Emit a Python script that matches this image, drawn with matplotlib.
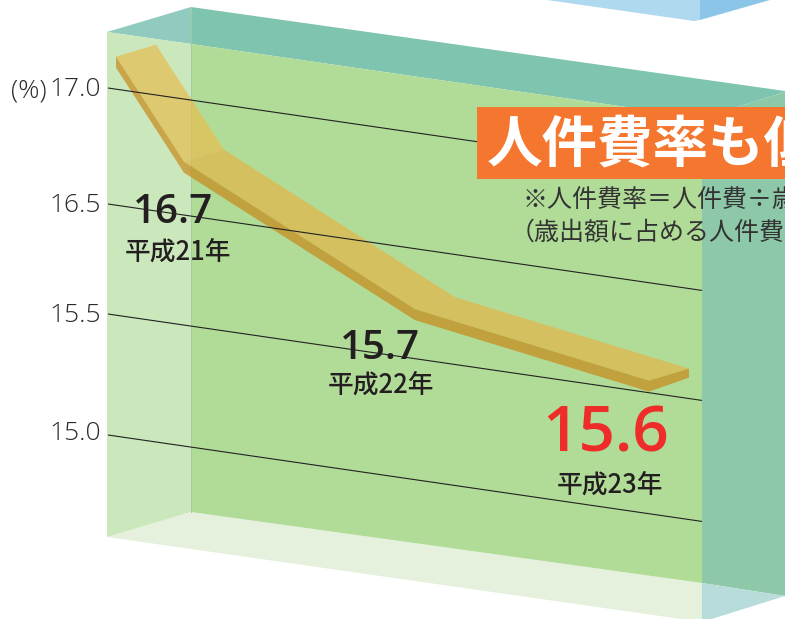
import numpy as np
import matplotlib
matplotlib.use("Agg")
import matplotlib.pyplot as plt
from matplotlib.patches import Polygon
from matplotlib.transforms import Affine2D

W, H = 785, 619

# chart values
tick_values = [15.0, 15.5, 16.5, 17.0]
tick_labels = ["15.0", "15.5", "16.5", "17.0"]
ribbon_x = [116, 184, 415, 649]
ribbon_values = [17.14, 16.73, 15.95, 15.61]
years = ["平成21年", "平成22年", "平成23年"]
rates = ["16.7", "15.7", "15.6"]

# pixel row of each tick where its line starts, the value axis has breaks
tick_rows = [435, 314, 204, 88]
label_rows = [434, 315, 205, 90]
SLOPE = 0.1455
LINE_X0, LINE_X1 = 108, 702

num_font = "Open Sans"
cjk = ["Noto Sans CJK JP", "DejaVu Sans"]

knot_v = np.array([14.0] + tick_values + [18.0])
knot_r = np.array([677.0] + tick_rows + [-144.0])


def forward(v):
    return -np.interp(v, knot_v, knot_r)


def inverse(y):
    return np.interp(y, -knot_r, knot_v)


fig = plt.figure(figsize=(W / 100, H / 100), dpi=100)
ax = fig.add_axes([0, 0, 1, 1])
ax.set_yscale("function", functions=(forward, inverse))
ax.set_xlim(0, W)
ax.set_ylim(inverse(-float(H)), inverse(0.0))
ax.axis("off")

# plain image pixels, y down, for the box scenery and the texts
px = Affine2D().scale(1, -1).translate(0, H)
# the lines of the value axis run downhill to the right
shear = Affine2D.from_values(1, -SLOPE, 0, 1, 0, SLOPE * LINE_X0)
sheared = ax.transData + shear


def face(points, color, z=1, alpha=None):
    ax.add_patch(Polygon(points, closed=True, fc=color, ec="none", alpha=alpha,
                         transform=px, zorder=z))


# box
face([(547, 0), (694, 21), (700, 20), (700, 0)], "#aed9ef")
face([(700, 0), (700, 20), (770, 0)], "#8bc6e8")
face([(191, 7), (785, 91), (785, 92), (702, 118), (191, 44)], "#7fc4ae")
face([(107, 32), (191, 7), (191, 44)], "#91cbc0")
face([(702, 118), (785, 92), (785, 596), (702, 583)], "#8dc9a9")
face([(107, 537), (191, 512), (702, 583), (702, 622), (107, 537)], "#e5f1dd")
face([(702, 583), (785, 596), (702, 622)], "#b8dcda")
face([(191, 44), (702, 118), (702, 583), (191, 512)], "#b1dc98")
face([(107, 32), (191, 44), (191, 512), (107, 537)], "#cbe8bc")
ax.plot([191, 191], [7, 512], color="#9fcfa0", lw=0.7, transform=px, zorder=1.5)

# ribbon
depth = np.array([40, 12])
thick = 11
front = sheared.transform(np.column_stack([ribbon_x, ribbon_values]))
front = np.column_stack([front[:, 0], H - front[:, 1]])
back = front + depth * [1, -1]
top_colors = ["#e6bd4f", "#e3b548", "#e3b548"]
for i in range(len(front) - 1):
    face([front[i], front[i + 1], back[i + 1], back[i]], top_colors[i], z=2, alpha=0.7)
    face([front[i], front[i + 1], front[i + 1] + [0, thick], front[i] + [0, thick]],
         "#c98918", z=2, alpha=0.7)
face([front[-1], back[-1], back[-1] + [0, thick - 2], front[-1] + [0, thick]],
     "#c98918", z=2, alpha=0.7)

# value axis
for v, row, lab in zip(tick_values, label_rows, tick_labels):
    ax.plot([LINE_X0, LINE_X1], [v, v], color="#222222", lw=0.8, transform=sheared,
            zorder=3, solid_capstyle="butt")
    ax.text(101, row, lab, family=num_font, fontsize=19, weight="light",
            color="#2b2b2b", ha="right", va="center", transform=px, zorder=5)
ax.text(29, 91, "(%)", family=num_font, fontsize=19, weight="light", color="#2b2b2b",
        ha="center", va="center", transform=px, zorder=5)

# rates and years
rate_pos = [(173, 213), (380, 349), (606, 435)]
rate_size = [29, 29, 46]
rate_color = ["#231f20", "#231f20", "#ee2d2a"]
year_pos = [(178, 252), (381, 385), (610, 485)]
for r, p, s, c in zip(rates, rate_pos, rate_size, rate_color):
    ax.text(p[0], p[1], r, family=num_font, fontsize=s, color=c, ha="center",
            va="center", transform=px, zorder=5, weight="semibold")
for y, p in zip(years, year_pos):
    ax.text(p[0], p[1], y, family=cjk, fontsize=18.5, weight="medium", color="#231f20",
            ha="center", va="center", transform=px, zorder=5)

# headline
ax.add_patch(Polygon([(477, 107), (785, 107), (785, 179), (477, 179)], fc="#f5762e",
                     ec="none", transform=px, zorder=4))
ax.text(487, 146, "人件費率も低", family=cjk, fontsize=40, weight="bold", color="white",
        ha="left", va="center", transform=px, zorder=5)
ax.text(522, 200, "※人件費率\uff1d人件費÷歳出総額", family=cjk, fontsize=18, color="#333333",
        ha="left", va="center", transform=px, zorder=5)
ax.text(510, 233, "\uff08歳出額に占める人件費の割合\uff09", family=cjk, fontsize=18, color="#333333",
        ha="left", va="center", transform=px, zorder=5)

fig.savefig("out.png", dpi=100)
